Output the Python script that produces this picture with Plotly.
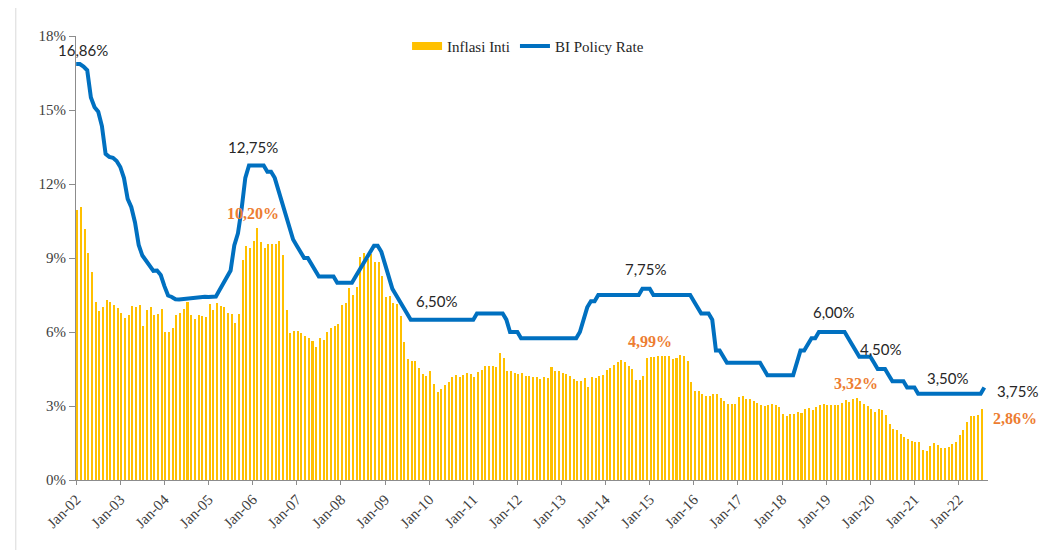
import plotly.graph_objects as go

# ---- categories (monthly, Jan-02 .. Aug-22) ----
month_names = ["Jan", "Feb", "Mar", "Apr", "May", "Jun",
               "Jul", "Aug", "Sep", "Oct", "Nov", "Dec"]
years = list(range(2002, 2023))
months = [f"{m}-{str(y)[2:]}" for y in years for m in month_names][:248]

# ---- Inflasi Inti (core inflation, % yoy), Jan-02 .. Jul-22 ----
inflasi_inti = [
    10.94, 11.05, 10.16, 9.21, 8.42, 7.20, 6.85, 7.00, 7.28, 7.20, 7.09, 6.96,   # 2002
    6.78, 6.57, 6.69, 7.05, 7.00, 7.09, 6.26, 6.89, 7.00, 6.69, 6.73, 6.93,      # 2003
    6.01, 5.99, 6.18, 6.69, 6.78, 6.93, 7.20, 6.69, 6.53, 6.69, 6.65, 6.61,      # 2004
    7.14, 6.89, 7.16, 7.05, 7.00, 6.78, 6.71, 6.38, 6.73, 8.90, 9.49, 9.39,      # 2005
    9.70, 10.20, 9.65, 9.42, 9.57, 9.57, 9.57, 9.69, 9.12, 6.89, 5.95, 6.03,     # 2006
    6.05, 5.97, 5.85, 5.74, 5.64, 5.41, 5.74, 5.68, 6.01, 6.15, 6.26, 6.31,      # 2007
    7.10, 7.18, 7.80, 7.50, 7.84, 9.03, 9.20, 8.95, 9.15, 8.82, 8.82, 8.28,      # 2008
    7.41, 7.45, 7.16, 7.14, 6.65, 5.58, 4.91, 4.84, 4.82, 4.53, 4.30, 4.23,      # 2009
    4.43, 3.89, 3.55, 3.69, 3.85, 3.96, 4.19, 4.26, 4.19, 4.26, 4.32, 4.28,      # 2010
    4.19, 4.36, 4.46, 4.64, 4.64, 4.64, 4.57, 5.14, 4.96, 4.43, 4.43, 4.34,      # 2011
    4.30, 4.32, 4.23, 4.23, 4.19, 4.17, 4.09, 4.16, 4.12, 4.59, 4.43, 4.40,      # 2012
    4.32, 4.30, 4.23, 4.09, 4.01, 4.01, 4.12, 3.77, 4.17, 4.12, 4.22, 4.26,      # 2013
    4.46, 4.53, 4.66, 4.78, 4.87, 4.78, 4.64, 4.49, 4.06, 4.06, 4.22, 4.95,      # 2014
    4.99, 5.00, 5.02, 5.02, 5.02, 5.02, 4.89, 4.93, 5.07, 5.03, 4.82, 3.97,      # 2015
    3.62, 3.59, 3.50, 3.39, 3.41, 3.49, 3.49, 3.32, 3.21, 3.08, 3.07, 3.07,      # 2016
    3.35, 3.41, 3.30, 3.28, 3.19, 3.13, 3.05, 3.00, 3.04, 3.07, 3.05, 2.95,      # 2017
    2.69, 2.58, 2.67, 2.69, 2.75, 2.72, 2.87, 2.90, 2.82, 2.94, 3.03, 3.07,      # 2018
    3.06, 3.06, 3.03, 3.05, 3.12, 3.25, 3.18, 3.30, 3.32, 3.20, 3.08, 3.02,      # 2019
    2.88, 2.76, 2.87, 2.85, 2.65, 2.26, 2.07, 2.03, 1.86, 1.74, 1.67, 1.60,      # 2020
    1.56, 1.53, 1.21, 1.18, 1.37, 1.49, 1.40, 1.31, 1.30, 1.33, 1.44, 1.56,      # 2021
    1.84, 2.03, 2.37, 2.60, 2.58, 2.63, 2.86,                                    # 2022
]

# ---- BI Policy Rate (%), Jan-02 .. Aug-22 ----
bi_rate = [
    16.86, 16.86, 16.76, 16.61, 15.51, 15.11, 14.93, 14.35, 13.22, 13.10, 13.06, 12.93,  # 2002
    12.69, 12.24, 11.40, 11.06, 10.44, 9.53, 9.10, 8.91, 8.66, 8.48, 8.49, 8.31,         # 2003
    7.86, 7.48, 7.42, 7.33, 7.32, 7.34, 7.36, 7.37, 7.39, 7.41, 7.41, 7.43,              # 2004
    7.42, 7.43, 7.44, 7.70, 7.95, 8.25, 8.49, 9.51, 10.00, 11.00, 12.25, 12.75,          # 2005
    12.75, 12.75, 12.75, 12.75, 12.50, 12.50, 12.25, 11.75, 11.25, 10.75, 10.25, 9.75,   # 2006
    9.50, 9.25, 9.00, 9.00, 8.75, 8.50, 8.25, 8.25, 8.25, 8.25, 8.25, 8.00,              # 2007
    8.00, 8.00, 8.00, 8.00, 8.25, 8.50, 8.75, 9.00, 9.25, 9.50, 9.50, 9.25,              # 2008
    8.75, 8.25, 7.75, 7.50, 7.25, 7.00, 6.75, 6.50, 6.50, 6.50, 6.50, 6.50,              # 2009
    6.50, 6.50, 6.50, 6.50, 6.50, 6.50, 6.50, 6.50, 6.50, 6.50, 6.50, 6.50,              # 2010
    6.50, 6.75, 6.75, 6.75, 6.75, 6.75, 6.75, 6.75, 6.75, 6.50, 6.00, 6.00,              # 2011
    6.00, 5.75, 5.75, 5.75, 5.75, 5.75, 5.75, 5.75, 5.75, 5.75, 5.75, 5.75,              # 2012
    5.75, 5.75, 5.75, 5.75, 5.75, 6.00, 6.50, 7.00, 7.25, 7.25, 7.50, 7.50,              # 2013
    7.50, 7.50, 7.50, 7.50, 7.50, 7.50, 7.50, 7.50, 7.50, 7.50, 7.75, 7.75,              # 2014
    7.75, 7.50, 7.50, 7.50, 7.50, 7.50, 7.50, 7.50, 7.50, 7.50, 7.50, 7.50,              # 2015
    7.25, 7.00, 6.75, 6.75, 6.75, 6.50, 5.25, 5.25, 5.00, 4.75, 4.75, 4.75,              # 2016
    4.75, 4.75, 4.75, 4.75, 4.75, 4.75, 4.75, 4.50, 4.25, 4.25, 4.25, 4.25,              # 2017
    4.25, 4.25, 4.25, 4.25, 4.75, 5.25, 5.25, 5.50, 5.75, 5.75, 6.00, 6.00,              # 2018
    6.00, 6.00, 6.00, 6.00, 6.00, 6.00, 5.75, 5.50, 5.25, 5.00, 5.00, 5.00,              # 2019
    5.00, 4.75, 4.50, 4.50, 4.50, 4.25, 4.00, 4.00, 4.00, 4.00, 3.75, 3.75,              # 2020
    3.75, 3.50, 3.50, 3.50, 3.50, 3.50, 3.50, 3.50, 3.50, 3.50, 3.50, 3.50,              # 2021
    3.50, 3.50, 3.50, 3.50, 3.50, 3.50, 3.50, 3.75,                                      # 2022
]

# ---- labels ----
tick_idx = list(range(0, 241, 12))
tick_text = [months[i] for i in tick_idx]
y_ticks = [0, 3, 6, 9, 12, 15, 18]
y_tick_text = [f"{v}%" for v in y_ticks]

rate_labels = [  # (month, value, text)
    ("Jan-02", 17.55, "16,86%"),
    ("Jan-06", 13.50, "12,75%"),
    ("Mar-10", 7.26, "6,50%"),
    ("Dec-14", 8.55, "7,75%"),
    ("Mar-19", 6.80, "6,00%"),
    ("Apr-20", 5.30, "4,50%"),
    ("Oct-21", 4.15, "3,50%"),
]
core_labels = [
    ("Jan-06", 10.82, "10,20%"),
    ("Jan-15", 5.61, "4,99%"),
    ("Sep-19", 3.92, "3,32%"),
]

BAR_COLOR = "#FFC000"
LINE_COLOR = "#0070C0"
ORANGE = "#ED7D31"
SERIF = "Liberation Serif"
SANS = "Lato"

x_bar = list(range(len(inflasi_inti)))
x_line = list(range(len(bi_rate)))

fig = go.Figure()
fig.add_trace(go.Bar(
    x=x_bar, y=inflasi_inti, name="Inflasi Inti",
    marker=dict(color=BAR_COLOR, line=dict(width=0)),
    width=0.55, offset=0, showlegend=False,
))
fig.add_trace(go.Scatter(
    x=x_line, y=bi_rate, name="BI Policy Rate", mode="lines",
    line=dict(color=LINE_COLOR, width=4), showlegend=False,
))
# legend entries
fig.add_trace(go.Scatter(x=[None], y=[None], mode="lines", name="Inflasi Inti",
                         line=dict(color=BAR_COLOR, width=8)))
fig.add_trace(go.Scatter(x=[None], y=[None], mode="lines", name="BI Policy Rate",
                         line=dict(color=LINE_COLOR, width=4)))

annotations = []
for m, v, t in rate_labels:
    first = (m == "Jan-02")
    annotations.append(dict(x=months.index(m), y=v, text=t, showarrow=False,
                            xanchor="center", yanchor="middle",
                            xshift=7 if first else 0, yshift=-3 if first else 0,
                            font=dict(family=SANS, size=15, color="#262626")))
for m, v, t in core_labels:
    annotations.append(dict(x=months.index(m), y=v, text=t, showarrow=False,
                            xanchor="center", yanchor="middle",
                            font=dict(family=SERIF, size=16, color=ORANGE, weight="bold")))
# end-of-series labels
last_rate = len(bi_rate) - 1
last_core = len(inflasi_inti) - 1
annotations.append(dict(x=last_rate, y=bi_rate[-1], text="3,75%", showarrow=False,
                        xanchor="left", yanchor="middle", xshift=11, yshift=-3,
                        font=dict(family=SANS, size=15, color="#262626")))
annotations.append(dict(x=last_core, y=inflasi_inti[-1], text="2,86%", showarrow=False,
                        xanchor="left", yanchor="middle", xshift=10, yshift=-9,
                        font=dict(family=SERIF, size=16, color=ORANGE, weight="bold")))

fig.update_layout(
    width=1047, height=542,
    margin=dict(l=67.5, r=67, t=28, b=70, pad=0),
    paper_bgcolor="white", plot_bgcolor="white",
    bargap=0,
    font=dict(family=SERIF, size=14, color="#404040"),
    legend=dict(orientation="h", x=0.363, y=0.977, xanchor="left", yanchor="middle",
                font=dict(family=SERIF, size=15, color="#262626"),
                itemwidth=30, bgcolor="rgba(0,0,0,0)"),
    annotations=annotations,
    shapes=[dict(type="line", xref="paper", yref="paper",
                 x0=-0.066, x1=-0.066, y0=-0.2, y1=1.2,
                 line=dict(color="#D9D9D9", width=1))],
)
fig.update_xaxes(
    range=[-0.05, 248], tickmode="array", tickvals=tick_idx, ticktext=tick_text,
    tickangle=-45, ticks="outside", ticklen=4, tickcolor="#8C8C8C",
    showline=True, linecolor="#8C8C8C", linewidth=1, showgrid=False, zeroline=False,
    tickfont=dict(family=SERIF, size=15, color="#404040"),
)
fig.update_yaxes(
    range=[0, 18], tickmode="array", tickvals=y_ticks, ticktext=y_tick_text,
    ticks="outside", ticklen=6, tickcolor="#8C8C8C",
    showline=True, linecolor="#8C8C8C", linewidth=1, showgrid=False, zeroline=False,
    tickfont=dict(family=SERIF, size=15, color="#404040"),
)

fig.write_html("out.html")
